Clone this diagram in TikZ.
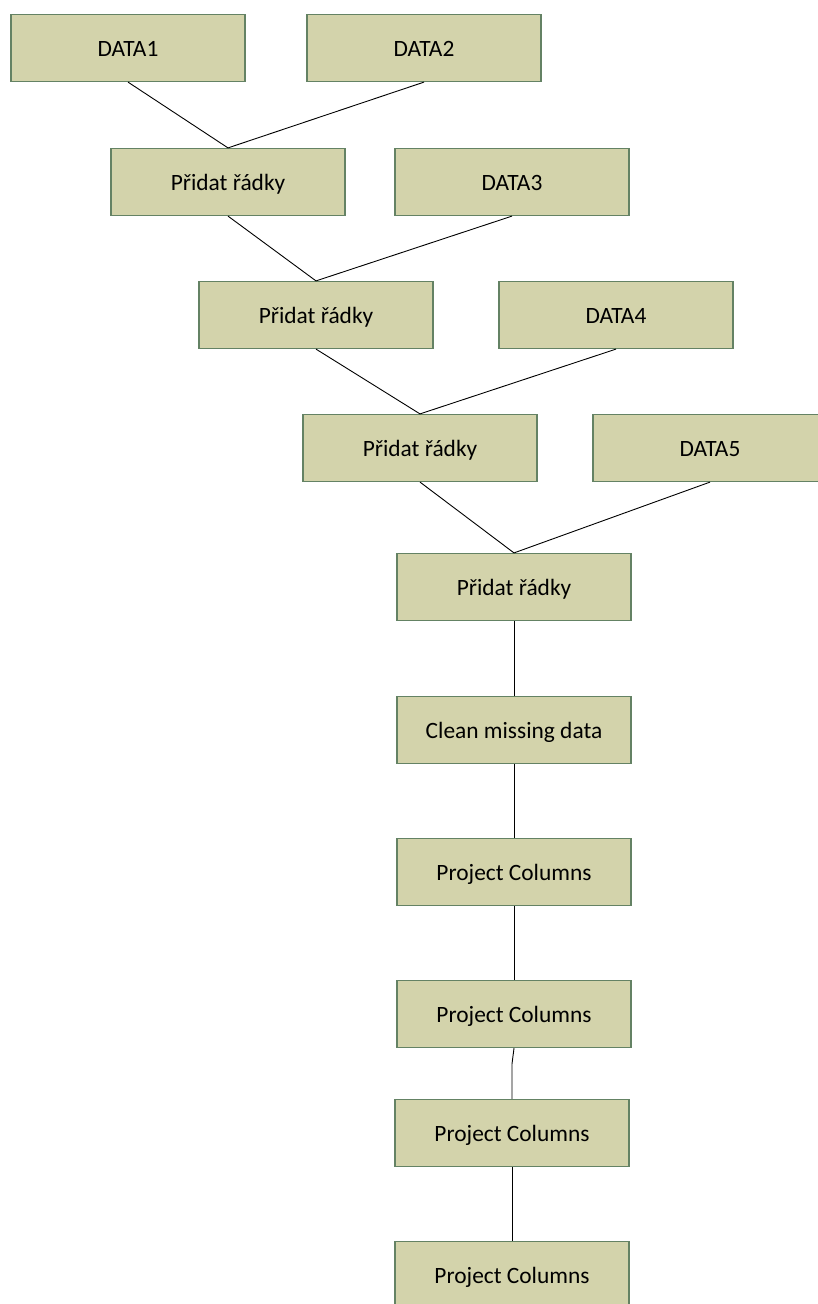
\documentclass[tikz,border=0pt]{standalone}
\usepackage{fontspec}
\setmainfont{Carlito}
\definecolor{boxfill}{RGB}{211,211,171}
\definecolor{boxline}{RGB}{100,130,100}
\begin{document}
\begin{tikzpicture}[x=1pt,y=-1pt,
  proc/.style={draw=boxline, fill=boxfill, line width=1.2pt, minimum width=234pt, minimum height=67pt, inner sep=0pt, text height=16pt, text depth=0pt, font=\fontsize{23.4}{28}\selectfont},
  link/.style={draw=black, line width=0.9pt}]
\useasboundingbox (0,0) rectangle (818,1304);
\clip (0,0) rectangle (818,1304);
\node[proc] (d1) at (128,48) {DATA1};
\node[proc] (d2) at (424,48) {DATA2};
\node[proc] (p1) at (228,182) {Přidat řádky};
\node[proc] (d3) at (512,182) {DATA3};
\node[proc] (p2) at (316,315) {Přidat řádky};
\node[proc] (d4) at (616,315) {DATA4};
\node[proc] (p3) at (420,448) {Přidat řádky};
\node[proc] (d5) at (710,448) {DATA5};
\node[proc] (p4) at (514,587) {Přidat řádky};
\node[proc] (c) at (514,730) {Clean missing data};
\node[proc] (pc1) at (514,872) {Project Columns};
\node[proc] (pc2) at (514,1014) {Project Columns};
\node[proc] (pc3) at (512,1133) {Project Columns};
\node[proc] (pc4) at (512,1275) {Project Columns};
\coordinate (kink) at (512,1064);
\draw[link] (d1.south) -- (p1.north);
\draw[link] (d2.south) -- (p1.north);
\draw[link] (p1.south) -- (p2.north);
\draw[link] (d3.south) -- (p2.north);
\draw[link] (p2.south) -- (p3.north);
\draw[link] (d4.south) -- (p3.north);
\draw[link] (p3.south) -- (p4.north);
\draw[link] (d5.south) -- (p4.north);
\draw[link] (p4.south) -- (c.north);
\draw[link] (c.south) -- (pc1.north);
\draw[link] (pc1.south) -- (pc2.north);
\draw[link] (pc2.south) .. controls (513,1056) .. (kink) -- (pc3.north);
\draw[link] (pc3.south) -- (pc4.north);
\end{tikzpicture}
\end{document}
